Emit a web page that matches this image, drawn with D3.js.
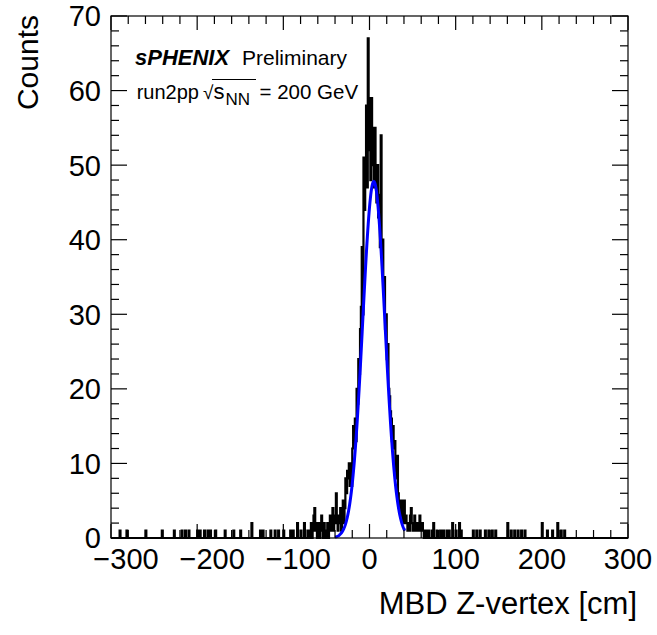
<!DOCTYPE html>
<html><head><meta charset="utf-8">
<script src="https://cdn.jsdelivr.net/npm/d3@7"></script>
<style>
body{margin:0;background:#fff}
svg{display:block}
text{font-family:"Liberation Sans",Arial,Helvetica,sans-serif;fill:#000}
</style>
</head><body>
<svg id="c" width="657" height="635"></svg>
<script>
// ---------------- data ----------------
const xDomain = [-300, 300];
const yDomain = [0, 70];
const binWidth = 1;                 // cm
const coreStart = -70;              // lower edge of first core bin (cm)
const coreCounts = [
  1,0,2,0,1,3,4,1,2,0,   // -70 .. -61
  1,2,0,1,3,1,0,2,1,0,   // -60 .. -51
  1,2,0,1,3,1,2,4,1,2,   // -50 .. -41
  3,6,2,1,3,2,4,1,3,5,   // -40 .. -31
  2,4,8,6,9,8,10,7,10,7, // -30 .. -21
  12,15,12,16,13,20,18,24,22,28, // -20 .. -11
  31,39,30,51,44,49,58,47,67,52, // -10 .. -1
  59,48,59,50,55,47,55,49,45,50, // 0 .. 9
  43,46,39,54,38,40,33,35,28,30, // 10 .. 19
  24,26,20,19,17,16,13,15,12,13, // 20 .. 29
  9,8,11,6,4,5,3,5,2,4,          // 30 .. 39
  5,2,3,2,1,2,1,3,4,2,           // 40 .. 49
  1,2,3,1,2,1,1,2,3,1,           // 50 .. 59
  1,2,1,0,1,1,0,1,1,0            // 60 .. 69
];
const tailPositions = [-290,-282,-260,-241,-227,-218,-214,-210,-200,-197,-192,-188,-185,-179,-168,-158,-150,-137,-127,-124,-115,-110,-106,-100,-92,-89,-84,-80,-76,-72,
  72,74,78,82,84,86,90,92,96,100,104,106,120,124,128,134,138,142,146,160,164,168,172,176,180,200,206,212,218,222,226];
const tailCounts = [1,1,1,1,1,1,1,1,1,1,1,1,1,1,1,1,1,2,1,1,1,1,1,1,1,1,2,1,2,1,
  1,2,1,1,1,1,1,1,2,1,2,1,1,1,1,1,1,1,1,2,1,1,1,1,1,2,1,1,2,1,1];
const xMajorTicks = [-300,-200,-100,0,100,200,300];
const xTickLabels = ["\u2212300","\u2212200","\u2212100","0","100","200","300"];
const xMinorStep = 20;
const yMajorTicks = [0,10,20,30,40,50,60,70];
const yTickLabels = ["0","10","20","30","40","50","60","70"];
const yMinorStep = 2;
const fitConstant = 47.8, fitMean = 5.0, fitSigma = 12.9;
const fitRange = [-40, 41];

// ---------------- layout ----------------
const L = 111, R = 628, T = 16, B = 538;
const svg = d3.select("#c");
const x = d3.scaleLinear().domain(xDomain).range([L, R]);
const y = d3.scaleLinear().domain(yDomain).range([B, T]);

// build full histogram
const nBins = Math.round((xDomain[1]-xDomain[0])/binWidth);
const counts = new Array(nBins).fill(0);
const coreOffset = Math.round((coreStart - xDomain[0])/binWidth);
coreCounts.forEach((c,i)=>{ counts[coreOffset+i] = c; });
tailPositions.forEach((p,i)=>{ counts[Math.floor((p - xDomain[0])/binWidth)] += tailCounts[i]; });

const pts = [[xDomain[0],0]];
counts.forEach((c,i)=>{
  const lo = xDomain[0] + i*binWidth, hi = lo + binWidth;
  pts.push([lo,c]); pts.push([hi,c]);
});
pts.push([xDomain[1],0]);

svg.append("path")
  .attr("d", d3.line().x(d=>x(d[0])).y(d=>y(d[1]))(pts))
  .attr("fill","none").attr("stroke","#000").attr("stroke-width",2.2);

// fit curve
const fitPts = d3.range(fitRange[0], fitRange[1]+0.001, 0.5)
  .map(v=>[v, fitConstant*Math.exp(-0.5*Math.pow((v-fitMean)/fitSigma,2))]);
svg.append("path")
  .attr("d", d3.line().x(d=>x(d[0])).y(d=>y(d[1])).curve(d3.curveLinear)(fitPts))
  .attr("fill","none").attr("stroke","#0000ff").attr("stroke-width",3);

// frame
svg.append("rect").attr("x",L).attr("y",T).attr("width",R-L).attr("height",B-T)
  .attr("fill","none").attr("stroke","#000").attr("stroke-width",1.2);

// ticks
const tk = svg.append("g").attr("stroke","#000").attr("stroke-width",1.2);
const xMinor = d3.range(xDomain[0], xDomain[1]+0.001, xMinorStep);
xMinor.forEach(v=>{
  const major = xMajorTicks.includes(v);
  const len = major ? 14 : 8;
  tk.append("line").attr("x1",x(v)).attr("x2",x(v)).attr("y1",B).attr("y2",B-len);
  tk.append("line").attr("x1",x(v)).attr("x2",x(v)).attr("y1",T).attr("y2",T+len);
});
const yMinor = d3.range(yDomain[0], yDomain[1]+0.001, yMinorStep);
yMinor.forEach(v=>{
  const major = yMajorTicks.includes(v);
  const len = major ? 16 : 8;
  tk.append("line").attr("y1",y(v)).attr("y2",y(v)).attr("x1",L).attr("x2",L+len);
  tk.append("line").attr("y1",y(v)).attr("y2",y(v)).attr("x1",R).attr("x2",R-len);
});

// tick labels (negative labels sit slightly right of their tick, as in ROOT)
svg.append("g").selectAll("text").data(xMajorTicks).join("text")
  .attr("x",d=>x(d) + (d<0 ? 15 : 0)).attr("y",569).attr("text-anchor","middle")
  .attr("font-size",29).text((d,i)=>xTickLabels[i]);
svg.append("g").selectAll("text").data(yMajorTicks).join("text")
  .attr("x",101).attr("y",d=>y(d)).attr("dy","0.36em").attr("text-anchor","end")
  .attr("font-size",29).text((d,i)=>yTickLabels[i]);

// axis titles
svg.append("text").attr("x",637).attr("y",614).attr("text-anchor","end")
  .attr("font-size",31).text("MBD Z-vertex [cm]");
svg.append("text").attr("transform","translate(38,15) rotate(-90)").attr("text-anchor","end")
  .attr("font-size",30).text("Counts");

// labels
const t1 = svg.append("text").attr("x",135).attr("y",65).attr("font-size",21);
t1.append("tspan").attr("font-weight","bold").attr("font-style","italic").attr("font-size",22).text("sPHENIX");
t1.append("tspan").attr("x",242).text("Preliminary");

const t2 = svg.append("text").attr("y",99.3).attr("font-size",20.5);
t2.append("tspan").attr("x",136.7).attr("font-size",20).text("run2pp");
t2.append("tspan").attr("x",203).attr("font-size",19).text("\u221A");
t2.append("tspan").attr("x",213.5).attr("font-size",22).text("s");
t2.append("tspan").attr("x",225.5).attr("font-size",17).attr("dy",5.7).text("NN");
t2.append("tspan").attr("x",259.5).attr("dy",-5.7).text("= 200 GeV");
svg.append("line").attr("x1",212).attr("x2",256).attr("y1",79.5).attr("y2",79.5)
  .attr("stroke","#000").attr("stroke-width",1.2);
</script>
</body></html>
